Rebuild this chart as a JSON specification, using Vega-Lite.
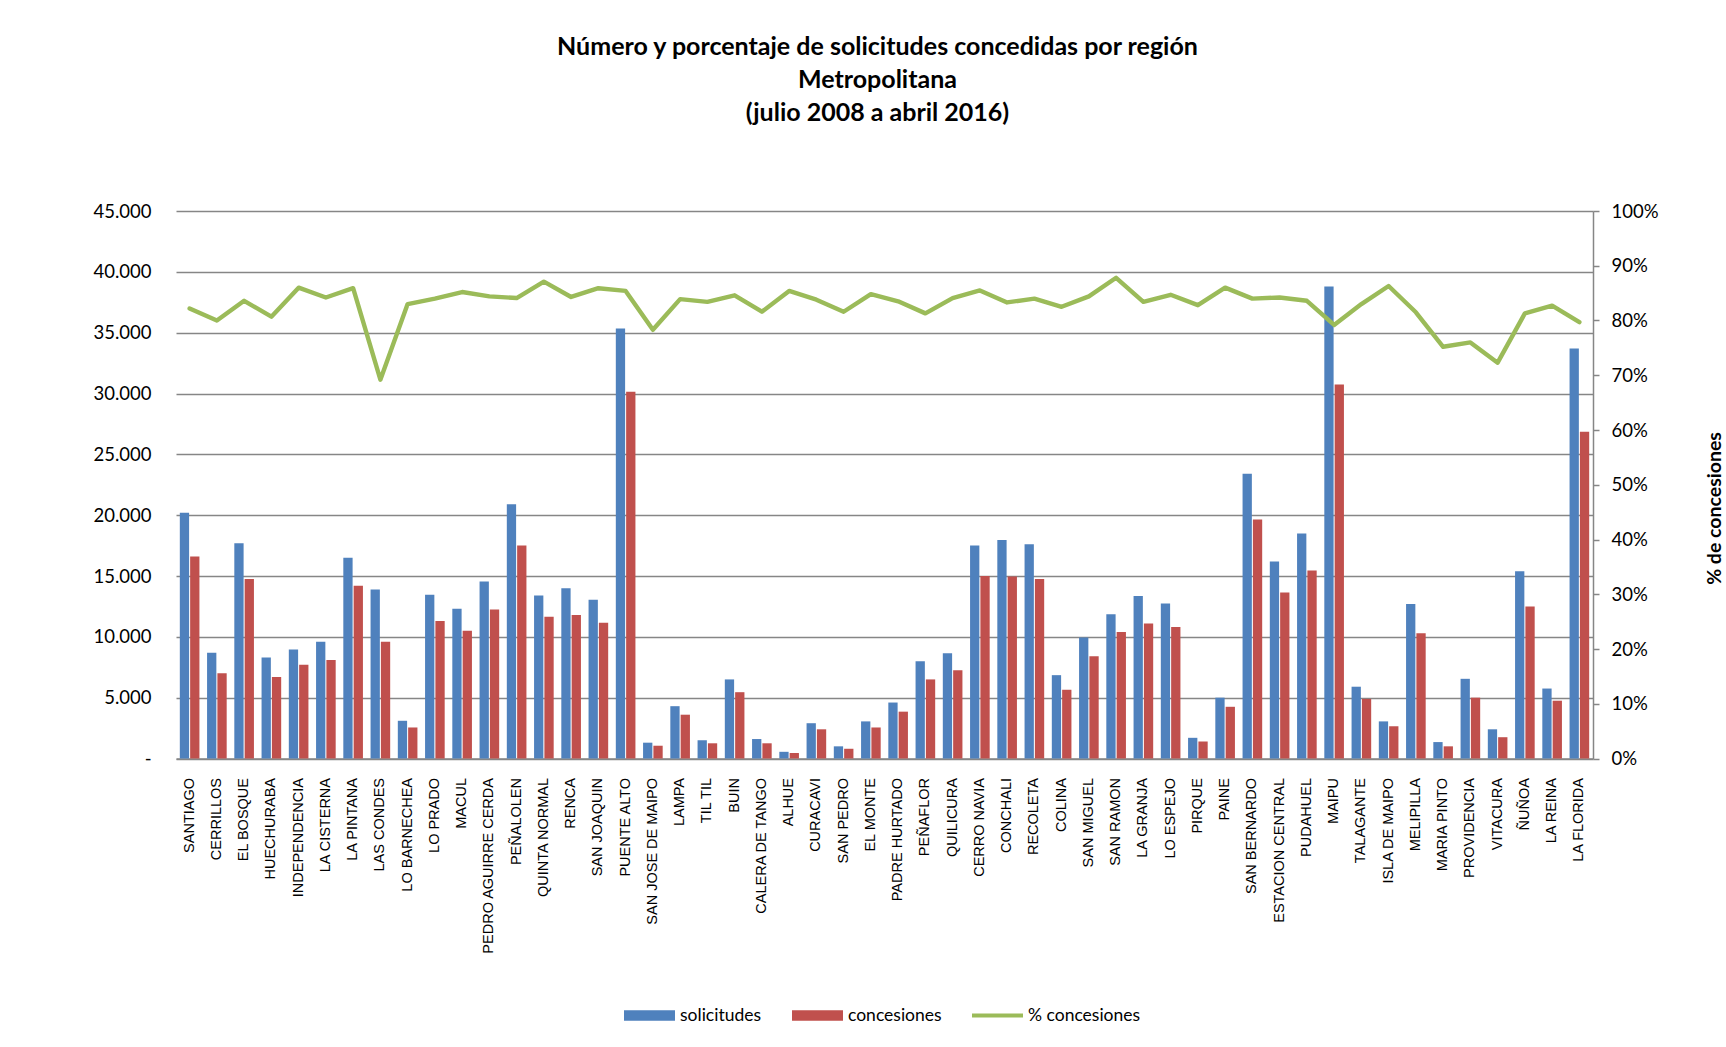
{
  "$schema": "https://vega.github.io/schema/vega-lite/v6.json",
  "autosize": {"type": "none"},
  "width": 1417,
  "height": 547.5,
  "padding": {"left": 176, "top": 211, "right": 133, "bottom": 288.5},
  "background": "white",
  "title": {
    "text": ["Número y porcentaje de solicitudes concedidas por región", "Metropolitana", "(julio 2008 a abril 2016)"],
    "anchor": "middle",
    "font": "Lato",
    "fontSize": 25,
    "fontWeight": "bold",
    "color": "#000000",
    "lineHeight": 33,
    "offset": 76,
    "dx": -7
  },
  "config": {
    "view": {"stroke": null},
    "axis": {"labelColor": "#000000", "titleColor": "#000000"}
  },
  "data": {
    "values": [
      {"region": "SANTIAGO", "solicitudes": 20200, "concesiones": 16600, "pct": 0.822},
      {"region": "CERRILLOS", "solicitudes": 8700, "concesiones": 7000, "pct": 0.800},
      {"region": "EL BOSQUE", "solicitudes": 17700, "concesiones": 14750, "pct": 0.836},
      {"region": "HUECHURABA", "solicitudes": 8300, "concesiones": 6700, "pct": 0.807},
      {"region": "INDEPENDENCIA", "solicitudes": 8950, "concesiones": 7700, "pct": 0.860},
      {"region": "LA CISTERNA", "solicitudes": 9600, "concesiones": 8100, "pct": 0.842},
      {"region": "LA PINTANA", "solicitudes": 16500, "concesiones": 14200, "pct": 0.859},
      {"region": "LAS CONDES", "solicitudes": 13900, "concesiones": 9600, "pct": 0.692},
      {"region": "LO BARNECHEA", "solicitudes": 3100, "concesiones": 2550, "pct": 0.830},
      {"region": "LO PRADO", "solicitudes": 13450, "concesiones": 11300, "pct": 0.840},
      {"region": "MACUL", "solicitudes": 12300, "concesiones": 10500, "pct": 0.852},
      {"region": "PEDRO AGUIRRE CERDA", "solicitudes": 14550, "concesiones": 12250, "pct": 0.844},
      {"region": "PEÑALOLEN", "solicitudes": 20900, "concesiones": 17500, "pct": 0.841},
      {"region": "QUINTA NORMAL", "solicitudes": 13400, "concesiones": 11650, "pct": 0.871},
      {"region": "RENCA", "solicitudes": 14000, "concesiones": 11800, "pct": 0.843},
      {"region": "SAN JOAQUIN", "solicitudes": 13050, "concesiones": 11150, "pct": 0.859},
      {"region": "PUENTE ALTO", "solicitudes": 35350, "concesiones": 30150, "pct": 0.854},
      {"region": "SAN JOSE DE MAIPO", "solicitudes": 1300, "concesiones": 1050, "pct": 0.783},
      {"region": "LAMPA", "solicitudes": 4300, "concesiones": 3600, "pct": 0.839},
      {"region": "TIL TIL", "solicitudes": 1500, "concesiones": 1250, "pct": 0.834},
      {"region": "BUIN", "solicitudes": 6500, "concesiones": 5450, "pct": 0.846},
      {"region": "CALERA DE TANGO", "solicitudes": 1600, "concesiones": 1250, "pct": 0.816},
      {"region": "ALHUE", "solicitudes": 550, "concesiones": 450, "pct": 0.854},
      {"region": "CURACAVI", "solicitudes": 2900, "concesiones": 2400, "pct": 0.838},
      {"region": "SAN PEDRO", "solicitudes": 1000, "concesiones": 800, "pct": 0.816},
      {"region": "EL MONTE", "solicitudes": 3050, "concesiones": 2550, "pct": 0.848},
      {"region": "PADRE HURTADO", "solicitudes": 4600, "concesiones": 3850, "pct": 0.835},
      {"region": "PEÑAFLOR", "solicitudes": 8000, "concesiones": 6500, "pct": 0.813},
      {"region": "QUILICURA", "solicitudes": 8650, "concesiones": 7250, "pct": 0.841},
      {"region": "CERRO NAVIA", "solicitudes": 17500, "concesiones": 15000, "pct": 0.855},
      {"region": "CONCHALI", "solicitudes": 17950, "concesiones": 14950, "pct": 0.833},
      {"region": "RECOLETA", "solicitudes": 17600, "concesiones": 14750, "pct": 0.840},
      {"region": "COLINA", "solicitudes": 6850, "concesiones": 5650, "pct": 0.825},
      {"region": "SAN MIGUEL", "solicitudes": 9950, "concesiones": 8400, "pct": 0.844},
      {"region": "SAN RAMON", "solicitudes": 11850, "concesiones": 10400, "pct": 0.878},
      {"region": "LA GRANJA", "solicitudes": 13350, "concesiones": 11100, "pct": 0.834},
      {"region": "LO ESPEJO", "solicitudes": 12750, "concesiones": 10800, "pct": 0.847},
      {"region": "PIRQUE", "solicitudes": 1700, "concesiones": 1400, "pct": 0.828},
      {"region": "PAINE", "solicitudes": 5000, "concesiones": 4250, "pct": 0.860},
      {"region": "SAN BERNARDO", "solicitudes": 23400, "concesiones": 19650, "pct": 0.840},
      {"region": "ESTACION CENTRAL", "solicitudes": 16200, "concesiones": 13650, "pct": 0.842},
      {"region": "PUDAHUEL", "solicitudes": 18500, "concesiones": 15450, "pct": 0.836},
      {"region": "MAIPU", "solicitudes": 38800, "concesiones": 30750, "pct": 0.792},
      {"region": "TALAGANTE", "solicitudes": 5900, "concesiones": 4900, "pct": 0.830},
      {"region": "ISLA DE MAIPO", "solicitudes": 3050, "concesiones": 2650, "pct": 0.863},
      {"region": "MELIPILLA", "solicitudes": 12700, "concesiones": 10300, "pct": 0.815},
      {"region": "MARIA PINTO", "solicitudes": 1350, "concesiones": 1000, "pct": 0.752},
      {"region": "PROVIDENCIA", "solicitudes": 6550, "concesiones": 5000, "pct": 0.760},
      {"region": "VITACURA", "solicitudes": 2400, "concesiones": 1750, "pct": 0.723},
      {"region": "ÑUÑOA", "solicitudes": 15400, "concesiones": 12500, "pct": 0.813},
      {"region": "LA REINA", "solicitudes": 5750, "concesiones": 4750, "pct": 0.827},
      {"region": "LA FLORIDA", "solicitudes": 33700, "concesiones": 26850, "pct": 0.797}
    ]
  },
  "encoding": {
    "x": {
      "field": "region",
      "type": "nominal",
      "sort": null,
      "scale": {"paddingInner": 0.28, "paddingOuter": 0.14},
      "axis": {
        "title": null,
        "labelAngle": -90,
        "labelFont": "Liberation Sans",
        "labelFontSize": 14.5,
        "labelPadding": 19,
        "ticks": false,
        "domain": true,
        "domainColor": "#868686",
        "domainWidth": 1.5,
        "labelLimit": 300
      }
    }
  },
  "layer": [
    {
      "transform": [{"fold": ["solicitudes", "concesiones"], "as": ["serie", "valor"]}],
      "mark": {"type": "bar"},
      "encoding": {
        "xOffset": {"field": "serie", "type": "nominal", "scale": {"domain": ["solicitudes", "concesiones"], "paddingInner": 0.1}},
        "y": {
          "field": "valor",
          "type": "quantitative",
          "scale": {"domain": [0, 45000], "nice": false},
          "axis": {
            "title": null,
            "values": [0, 5000, 10000, 15000, 20000, 25000, 30000, 35000, 40000, 45000],
            "labelExpr": "datum.value == 0 ? '-' : replace(format(datum.value, ','), ',', '.')",
            "labelFont": "Lato",
            "labelFontSize": 18.5,
            "labelPadding": 25,
            "ticks": false,
            "domain": false,
            "grid": true,
            "gridColor": "#868686",
            "gridWidth": 1.5
          }
        },
        "color": {
          "field": "serie",
          "type": "nominal",
          "scale": {"domain": ["solicitudes", "concesiones", "% concesiones"], "range": ["#4F81BD", "#C0504D", "#9BBB59"]},
          "legend": {
            "title": null,
            "orient": "none",
            "legendX": 448,
            "legendY": 779,
            "direction": "horizontal",
            "symbolSize": 2600,
            "columnPadding": 30,
            "labelOffset": 5,
            "labelFont": "Lato",
            "labelFontSize": 17.5,
            "labelColor": "#000000",
            "encode": {
              "symbols": {
                "update": {
                  "shape": {"signal": "datum.value === '% concesiones' ? 'M-1,-0.08H1V0.08H-1Z M0,-0.21L0,-0.21 M0,0.21L0,0.21' : 'M-1,-0.21H1V0.21H-1Z'"},
                  "fill": {"signal": "datum.value === 'solicitudes' ? '#4F81BD' : datum.value === 'concesiones' ? '#C0504D' : '#9BBB59'"},
                  "stroke": {"value": "transparent"},
                  "strokeWidth": {"value": 0},
                  "opacity": {"value": 1}
                }
              }
            }
          }
        }
      }
    },
    {
      "mark": {"type": "line", "strokeWidth": 4.4, "strokeJoin": "round", "strokeCap": "round"},
      "encoding": {
        "y": {
          "field": "pct",
          "type": "quantitative",
          "scale": {"domain": [0, 1], "nice": false},
          "axis": {
            "orient": "right",
            "title": "% de concesiones",
            "titleFont": "Lato",
            "titleFontSize": 19.5,
            "titleFontWeight": "bold",
            "titleAngle": 270,
            "titlePadding": 66,
            "titleY": 297,
            "values": [0, 0.1, 0.2, 0.3, 0.4, 0.5, 0.6, 0.7, 0.8, 0.9, 1],
            "format": ".0%",
            "labelFont": "Lato",
            "labelFontSize": 18.5,
            "labelPadding": 12,
            "ticks": true,
            "tickSize": 6,
            "tickColor": "#868686",
            "tickWidth": 1.5,
            "domain": true,
            "domainColor": "#868686",
            "domainWidth": 1.5,
            "grid": false
          }
        },
        "color": {"datum": "% concesiones"}
      }
    }
  ],
  "resolve": {"scale": {"y": "independent"}}
}
